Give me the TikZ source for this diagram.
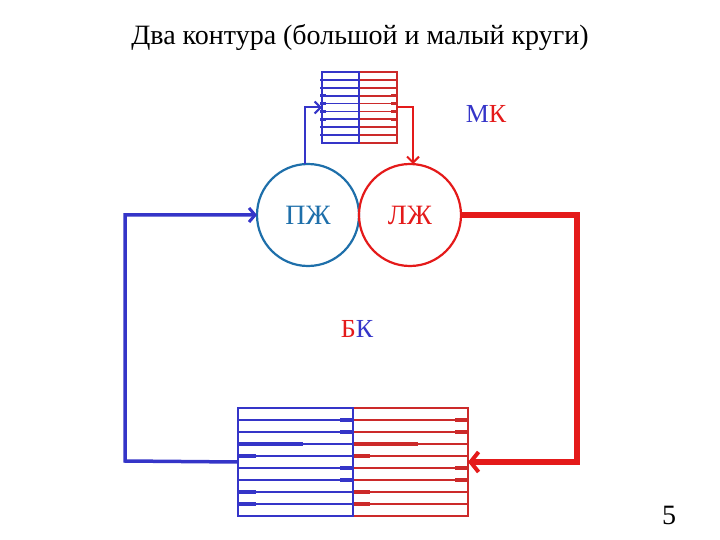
\documentclass[tikz,border=0pt]{standalone}
\usepackage{fontspec}
\setmainfont{Liberation Serif}
\usepackage{tikz}
\usetikzlibrary{arrows.meta, positioning, calc}
\definecolor{vblue}{HTML}{3535C8}
\definecolor{rvblue}{HTML}{1E6FAA}
\definecolor{vred}{HTML}{E41A1A}
\definecolor{nred}{HTML}{CC2A2A}
\tikzset{
  heart/.style={circle, draw, line width=2.2pt, minimum size=102pt,
                inner sep=0pt, outer sep=0pt, font=\fontsize{28}{32}\selectfont},
  net/.style={rectangle, draw, line width=2pt, inner sep=0pt, outer sep=0pt},
  netb/.style={net, draw=vblue},
  netr/.style={net, draw=nred},
  gridb/.style={vblue, line width=1.8pt},
  gridr/.style={nred, line width=1.8pt},
  thkb/.style={vblue, line width=3.5pt},
  thkr/.style={nred, line width=3.5pt},
  lbl/.style={font=\fontsize{26}{30}\selectfont},
}

\begin{document}
\begin{tikzpicture}[x=1pt, y=-1pt,
  smallb/.style={vblue, line width=2pt, -{Straight Barb[length=6pt, width=12pt, line width=2pt]}},
  smallr/.style={vred, line width=2pt, -{Straight Barb[length=6pt, width=12pt, line width=2pt]}},
  bigb/.style={vblue, line width=3.5pt, -{Straight Barb[length=6pt, width=14pt, line width=3pt]}},
  bigr/.style={vred, line width=6.5pt, -{Straight Barb[length=8pt, width=20pt, line width=4pt]}},
]
  \useasboundingbox (0,0) rectangle (720,540);

  \node[font=\fontsize{28}{32}\selectfont] (title) at (360,38)
    {Два контура (большой и малый круги)};

  \node[heart, draw=rvblue, text=rvblue] (pzh) at (308,215) {ПЖ};
  \node[heart, draw=vred, text=vred, right=0pt of pzh] (lzh) {ЛЖ};

  \node[netr, minimum width=38pt, minimum height=71pt] (lungr) at (378,107.5) {};
  \node[netb, minimum width=37pt, minimum height=71pt, left=0pt of lungr] (lungb) {};

  \node[netr, minimum width=115pt, minimum height=108pt] (bodyr) at (410.5,462) {};
  \node[netb, minimum width=115pt, minimum height=108pt, left=0pt of bodyr] (bodyb) {};

  \foreach \i in {1,...,8} {
    \draw[gridb] ($(lungb.north west)!\i/9!(lungb.south west)$) -- ($(lungb.north east)!\i/9!(lungb.south east)$);
    \draw[gridr] ($(lungr.north west)!\i/9!(lungr.south west)$) -- ($(lungr.north east)!\i/9!(lungr.south east)$);
    \draw[gridb] ($(bodyb.north west)!\i/9!(bodyb.south west)$) -- ($(bodyb.north east)!\i/9!(bodyb.south east)$);
    \draw[gridr] ($(bodyr.north west)!\i/9!(bodyr.south west)$) -- ($(bodyr.north east)!\i/9!(bodyr.south east)$);
    \draw[thkb, line width=2.5pt] ($(lungb.north west)!\i/9!(lungb.south west)$) ++(-2,0) -- ++(6,0);
    \draw[thkr, line width=2.5pt] ($(lungr.north east)!\i/9!(lungr.south east)$) -- ++(-6,0);
  }

  \foreach \i in {1,2,5,6} {
    \draw[thkb] ($(bodyb.north east)!\i/9!(bodyb.south east)$) -- ++(-13,0);
    \draw[thkr] ($(bodyr.north east)!\i/9!(bodyr.south east)$) -- ++(-13,0);
  }
  \foreach \i in {4,7,8} {
    \draw[thkb] ($(bodyb.north west)!\i/9!(bodyb.south west)$) -- ++(18,0);
    \draw[thkr] ($(bodyr.north west)!\i/9!(bodyr.south west)$) -- ++(17,0);
  }
  \draw[thkb] ($(bodyb.north west)!3/9!(bodyb.south west)$) -- ++(65,0);
  \draw[thkr] ($(bodyr.north west)!3/9!(bodyr.south west)$) -- ++(65,0);

  \draw[vblue, line width=2pt] (lungb.north east) -- (lungb.south east);
  \draw[vblue, line width=2pt] (bodyb.north east) -- (bodyb.south east);

  \coordinate (lcorner) at (125,461);
  \coordinate (rcorner) at (577,462);

  \draw[smallb] (pzh.north) ++(-3,0) |- (lungb.west);
  \draw[smallr] (lungr.east) -| ([xshift=3pt]lzh.north);
  \draw[bigr] (lzh.east) -| (rcorner) -- (bodyr.east);
  \draw[bigb] (bodyb.west) -- (lcorner) |- (pzh.west);

  \node[lbl] (mk) at (486,114) {\textcolor{vblue}{М}\textcolor{vred}{К}};
  \node[lbl] (bk) at (357,329) {\textcolor{vred}{Б}\textcolor{vblue}{К}};
  \node[font=\fontsize{28}{32}\selectfont] (page) at (669,515) {5};
\end{tikzpicture}
\end{document}
